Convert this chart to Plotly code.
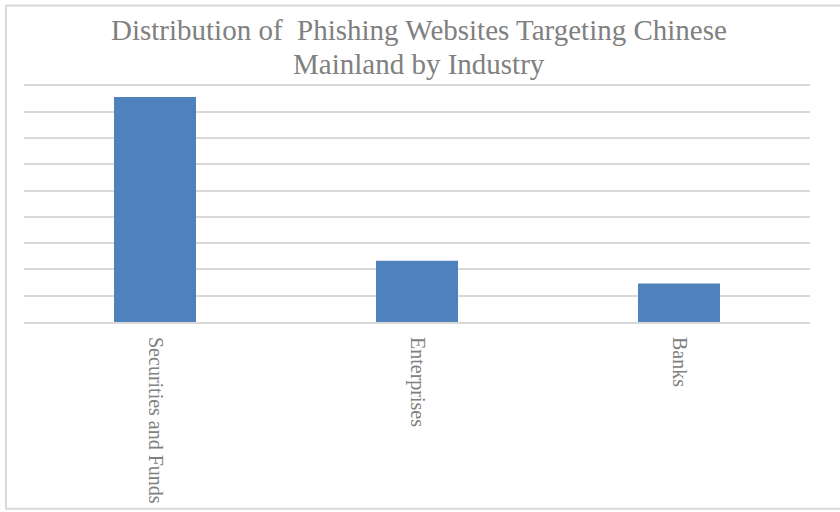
import plotly.graph_objects as go

categories = ["Securities and Funds", "Enterprises", "Banks"]
values = [85.6, 23.3, 14.6]
title_lines = ["Distribution of  Phishing Websites Targeting Chinese", "Mainland by Industry"]

W, H = 840, 512
Y_MAX = 90.5
GRID_TOP_PX, BASE_PX = 85, 322.5
L, R = 24, 30
B = H - BASE_PX
T = BASE_PX - (BASE_PX - GRID_TOP_PX) * Y_MAX / 90
pw, ph = W - L - R, H - T - B


def px_x(p):
    return (p - L) / pw


def px_y(p):
    return (H - B - p) / ph


fig = go.Figure(
    go.Bar(x=categories, y=values, marker=dict(color="#4f81bd", line=dict(width=0)))
)

title_tops = [11.5, 45.6]
annotations = [
    dict(
        text=t,
        xref="paper",
        yref="paper",
        x=px_x(419),
        y=px_y(top),
        xanchor="center",
        yanchor="top",
        showarrow=False,
        font=dict(family="Liberation Serif", size=29, color="#808080"),
    )
    for t, top in zip(title_lines, title_tops)
]

fig.update_layout(
    width=W,
    height=H,
    margin=dict(l=L, r=R, t=T, b=B, autoexpand=False),
    paper_bgcolor="white",
    plot_bgcolor="white",
    bargap=0.687,
    showlegend=False,
    font=dict(family="Liberation Serif", color="#808080"),
    annotations=annotations,
    xaxis=dict(
        tickangle=90,
        tickfont=dict(family="Liberation Serif", size=20, color="#808080"),
        showline=True,
        linecolor="#d9d9d9",
        linewidth=2,
        ticks="outside",
        ticklen=9,
        tickcolor="rgba(0,0,0,0)",
        showgrid=False,
    ),
    yaxis=dict(
        range=[0, Y_MAX],
        tick0=0,
        dtick=10,
        showticklabels=False,
        showgrid=True,
        gridcolor="#d9d9d9",
        gridwidth=2,
        zeroline=False,
        fixedrange=True,
    ),
    shapes=[
        dict(
            type="rect",
            xref="paper",
            yref="paper",
            x0=px_x(6),
            x1=px_x(850),
            y0=px_y(510),
            y1=px_y(5),
            line=dict(color="#d9d9d9", width=2),
            fillcolor="rgba(0,0,0,0)",
            layer="below",
        )
    ],
)

fig.write_html(
    "out.html",
    config={"displayModeBar": False},
    post_script="document.body.style.margin='0';document.body.style.overflow='hidden';",
)
